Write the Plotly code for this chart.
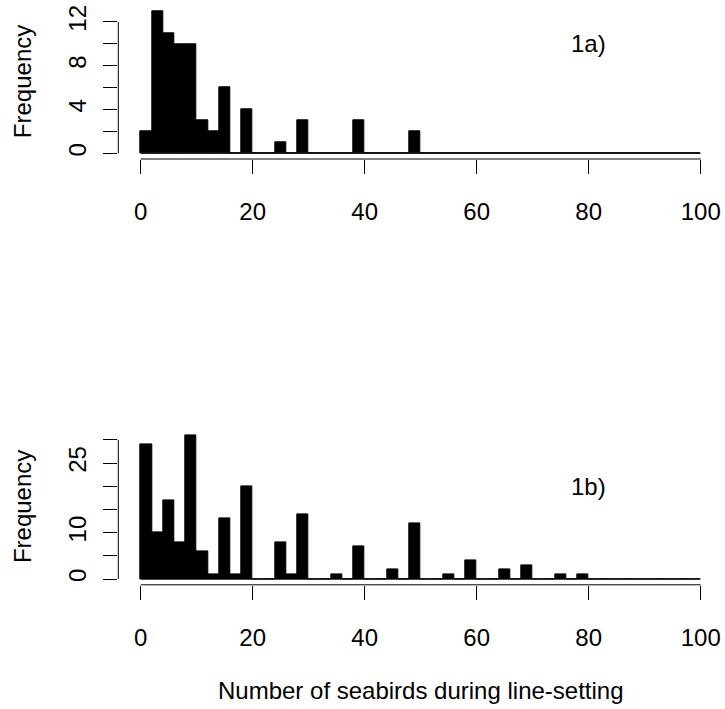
import plotly.graph_objects as go

# ---------------- data ----------------
bin_edges = [0, 2, 4, 6, 8, 10, 12, 14, 16, 18, 20, 22, 24, 26, 28, 30, 32, 34, 36, 38, 40,
             42, 44, 46, 48, 50, 52, 54, 56, 58, 60, 62, 64, 66, 68, 70, 72, 74, 76, 78, 80,
             82, 84, 86, 88, 90, 92, 94, 96, 98, 100]

counts_a = [2, 13, 11, 10, 10, 3, 2, 6, 0, 4,
            0, 0, 1, 0, 3, 0, 0, 0, 0, 3,
            0, 0, 0, 0, 2, 0, 0, 0, 0, 0,
            0, 0, 0, 0, 0, 0, 0, 0, 0, 0,
            0, 0, 0, 0, 0, 0, 0, 0, 0, 0]

counts_b = [29, 10, 17, 8, 31, 6, 1, 13, 1, 20,
            0, 0, 8, 1, 14, 0, 0, 1, 0, 7,
            0, 0, 2, 0, 12, 0, 0, 1, 0, 4,
            0, 0, 2, 0, 3, 0, 0, 1, 0, 1,
            0, 0, 0, 0, 0, 0, 0, 0, 0, 0]

x_ticks = [0, 20, 40, 60, 80, 100]
y_ticks_a = [0, 2, 4, 6, 8, 10, 12]
y_text_a = ["0", "", "4", "", "8", "", "12"]
y_ticks_b = [0, 5, 10, 15, 20, 25, 30]
y_text_b = ["0", "", "10", "", "", "25", ""]

label_a = "1a)"
label_b = "1b)"
x_title = "Number of seabirds during line-setting"
y_title = "Frequency"

# ---------------- layout geometry ----------------
W, H = 725, 709
FONT = "Liberation Sans, Arial, Helvetica, sans-serif"
FS = 24

centers = [(a + b) / 2 for a, b in zip(bin_edges[:-1], bin_edges[1:])]
widths = [b - a for a, b in zip(bin_edges[:-1], bin_edges[1:])]

x_dom = [118.3 / W, 723.1 / W]
ydom_a = [1 - 159.0 / H, 1 - 5.3 / H]
ydom_b = [1 - 584.8 / H, 1 - 429.4 / H]


def pad(lo, hi):
    d = (hi - lo) * 0.04
    return [lo - d, hi + d]


fig = go.Figure()
bar_style = dict(color="black", line=dict(color="black", width=1))
fig.add_trace(go.Bar(x=centers, y=counts_a, width=widths, marker=bar_style,
                     xaxis="x", yaxis="y", hoverinfo="skip"))
fig.add_trace(go.Bar(x=centers, y=counts_b, width=widths, marker=bar_style,
                     xaxis="x2", yaxis="y2", hoverinfo="skip"))

tickfont = dict(family=FONT, size=FS, color="black")
xcommon = dict(range=pad(bin_edges[0], bin_edges[-1]), domain=x_dom, tickvals=x_ticks,
               ticks="outside", ticklen=14, tickwidth=1, tickcolor="black",
               showline=False, showgrid=False, zeroline=False, tickfont=tickfont,
               ticklabelstandoff=17, automargin=False, fixedrange=True)
ycommon = dict(ticks="outside", ticklen=14, tickwidth=1, tickcolor="black",
               showline=False, showgrid=False, zeroline=False, tickfont=tickfont,
               tickangle=-90, ticklabelstandoff=8, automargin=False, fixedrange=True)

fig.update_layout(
    width=W, height=H,
    margin=dict(l=0, r=0, t=0, b=0),
    paper_bgcolor="white", plot_bgcolor="white",
    showlegend=False, bargap=0,
    font=dict(family=FONT, size=FS, color="black"),
    xaxis=dict(anchor="y", **xcommon),
    xaxis2=dict(anchor="y2", **xcommon),
    yaxis=dict(anchor="x", domain=ydom_a, range=pad(0, max(counts_a)),
               tickvals=y_ticks_a, ticktext=y_text_a, **ycommon),
    yaxis2=dict(anchor="x2", domain=ydom_b, range=pad(0, max(counts_b)),
                tickvals=y_ticks_b, ticktext=y_text_b, **ycommon),
)

shapes = []
line = dict(color="black", width=1)
for xr, yr, yt in (("x", "y", y_ticks_a), ("x2", "y2", y_ticks_b)):
    # x axis line (first to last tick)
    shapes.append(dict(type="line", xref=xr, yref=yr + " domain",
                       x0=x_ticks[0], x1=x_ticks[-1], y0=0, y1=0, line=line))
    # y axis line (first to last tick)
    shapes.append(dict(type="line", xref=xr + " domain", yref=yr,
                       x0=0, x1=0, y0=yt[0], y1=yt[-1], line=line))
    # histogram baseline (empty bins)
    shapes.append(dict(type="line", xref=xr, yref=yr,
                       x0=bin_edges[0], x1=bin_edges[-1], y0=0, y1=0, line=line))
fig.update_layout(shapes=shapes)

ann = []
ann.append(dict(text=label_a, x=80, y=10, xref="x", yref="y", showarrow=False,
                font=dict(family=FONT, size=FS, color="black")))
ann.append(dict(text=label_b, x=80, y=20, xref="x2", yref="y2", showarrow=False,
                font=dict(family=FONT, size=FS, color="black")))
for dom in (ydom_a, ydom_b):
    ann.append(dict(text=y_title, x=22 / W, y=(dom[0] + dom[1]) / 2, xref="paper", yref="paper",
                    textangle=-90, showarrow=False, xanchor="center", yanchor="middle",
                    font=dict(family=FONT, size=FS, color="black")))
ann.append(dict(text=x_title, x=(x_dom[0] + x_dom[1]) / 2, y=1 - 690 / H, xref="paper", yref="paper",
                showarrow=False, xanchor="center", yanchor="middle",
                font=dict(family=FONT, size=FS, color="black")))
fig.update_layout(annotations=ann)

fig.write_html("out.html")
